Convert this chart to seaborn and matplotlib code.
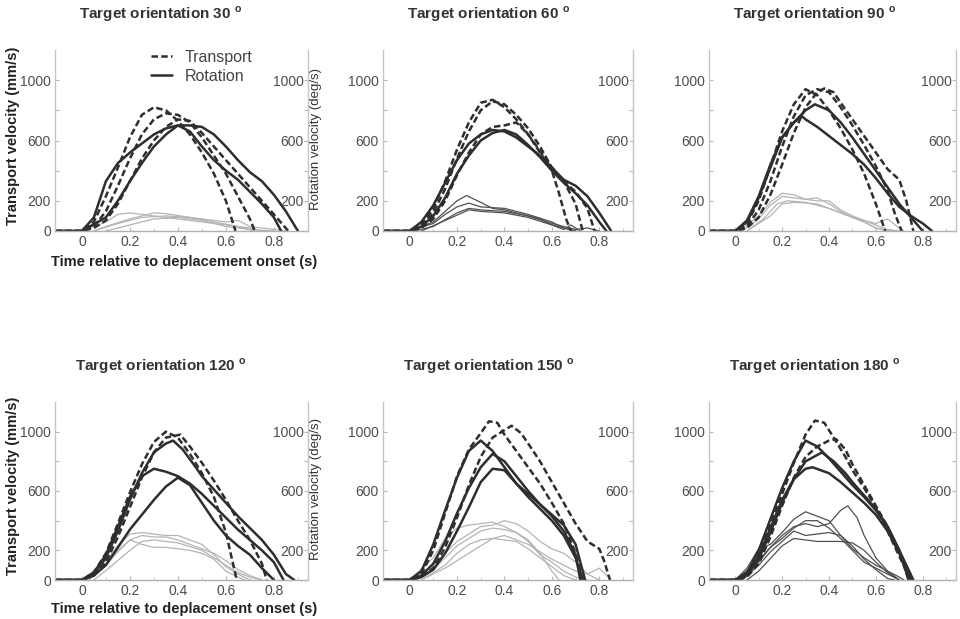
import matplotlib
matplotlib.use("Agg")
import matplotlib.pyplot as plt
from matplotlib.lines import Line2D
import seaborn as sns

sns.set_theme(style="white")
plt.rcParams['font.family'] = ['Liberation Sans', 'DejaVu Sans']
plt.rcParams['mathtext.fontset'] = 'custom'
plt.rcParams['mathtext.bf'] = 'Liberation Sans:bold'
plt.rcParams['mathtext.rm'] = 'Liberation Sans'

# ---------------- data ----------------
orientations = [30, 60, 90, 120, 150, 180]
y_ticks = [0, 200, 400, 600, 800, 1000]
y_left_labels = ['0', '200', '', '600', '', '1000']
y_right_labels = ['', '200', '', '600', '', '1000']
x_ticks = [0, 0.2, 0.4, 0.6, 0.8]
x_labels = ['0', '0.2', '0.4', '0.6', '0.8']
legend_labels = ['Transport', 'Rotation']

# --- 30 deg ---
t30_d1 = [-0.11, 0, 0.05, 0.1, 0.15, 0.2, 0.25, 0.3, 0.35, 0.4, 0.45, 0.5, 0.55, 0.6, 0.64]
v30_d1 = [0, 0, 60, 230, 420, 620, 770, 820, 800, 730, 640, 520, 380, 200, 0]
t30_d2 = [-0.11, 0, 0.05, 0.1, 0.15, 0.2, 0.25, 0.3, 0.35, 0.4, 0.45, 0.5, 0.55, 0.6, 0.65, 0.7, 0.72]
v30_d2 = [0, 0, 30, 130, 300, 480, 640, 740, 780, 770, 720, 620, 500, 380, 230, 80, 0]
t30_d3 = [-0.11, 0, 0.05, 0.1, 0.15, 0.2, 0.25, 0.3, 0.35, 0.4, 0.45, 0.5, 0.55, 0.6, 0.65, 0.7, 0.75, 0.8, 0.86]
v30_d3 = [0, 0, 20, 70, 180, 330, 480, 600, 690, 740, 730, 650, 560, 470, 380, 290, 200, 110, 0]
t30_s1 = [-0.11, 0, 0.05, 0.1, 0.15, 0.2, 0.25, 0.3, 0.35, 0.4, 0.45, 0.5, 0.55, 0.6, 0.65, 0.7, 0.75, 0.8, 0.85, 0.9]
v30_s1 = [0, 0, 90, 330, 450, 520, 580, 640, 680, 700, 700, 690, 640, 560, 470, 390, 330, 240, 130, 0]
t30_s2 = [-0.11, 0, 0.1, 0.15, 0.2, 0.25, 0.3, 0.35, 0.4, 0.45, 0.5, 0.55, 0.6, 0.65, 0.7, 0.75, 0.8, 0.83]
v30_s2 = [0, 0, 90, 200, 330, 450, 560, 640, 700, 660, 560, 470, 400, 340, 260, 180, 90, 0]
t30_g1 = [0, 0.1, 0.15, 0.2, 0.3, 0.4, 0.5, 0.6, 0.7, 0.75]
v30_g1 = [0, 60, 110, 120, 100, 80, 60, 40, 20, 0]
t30_g2 = [0.05, 0.1, 0.2, 0.3, 0.35, 0.45, 0.55, 0.65, 0.72]
v30_g2 = [0, 30, 80, 120, 115, 90, 60, 30, 0]
t30_g3 = [0.05, 0.15, 0.25, 0.35, 0.45, 0.55, 0.6, 0.65, 0.7, 0.8, 0.85]
v30_g3 = [0, 50, 90, 100, 90, 70, 60, 70, 30, 10, 0]
t30_g4 = [0.1, 0.2, 0.3, 0.4, 0.5, 0.6, 0.7, 0.8]
v30_g4 = [0, 40, 80, 90, 70, 30, 10, 0]

# --- 60 deg ---
t60_d1 = [-0.11, 0, 0.05, 0.1, 0.15, 0.2, 0.25, 0.3, 0.35, 0.4, 0.45, 0.5, 0.55, 0.6, 0.63, 0.66, 0.68]
v60_d1 = [0, 0, 40, 150, 330, 540, 720, 850, 870, 820, 740, 640, 520, 400, 250, 80, 0]
t60_d2 = [-0.11, 0, 0.05, 0.1, 0.15, 0.2, 0.25, 0.3, 0.35, 0.4, 0.45, 0.5, 0.55, 0.6, 0.65, 0.7, 0.73]
v60_d2 = [0, 0, 30, 120, 280, 480, 660, 800, 860, 840, 770, 680, 560, 420, 330, 180, 0]
t60_d3 = [-0.11, 0, 0.05, 0.1, 0.15, 0.2, 0.25, 0.3, 0.35, 0.4, 0.45, 0.5, 0.55, 0.6, 0.65, 0.7, 0.75, 0.78]
v60_d3 = [0, 0, 20, 80, 200, 370, 520, 640, 690, 700, 720, 640, 530, 420, 330, 260, 150, 0]
t60_s1 = [-0.11, 0, 0.05, 0.1, 0.15, 0.2, 0.25, 0.3, 0.35, 0.4, 0.45, 0.5, 0.55, 0.6, 0.65, 0.7, 0.75, 0.8, 0.85]
v60_s1 = [0, 0, 60, 170, 320, 470, 580, 640, 670, 660, 620, 560, 500, 420, 340, 300, 230, 120, 0]
t60_s2 = [-0.11, 0, 0.05, 0.1, 0.15, 0.2, 0.25, 0.3, 0.35, 0.4, 0.45, 0.5, 0.55, 0.6, 0.65, 0.7, 0.75, 0.8, 0.83]
v60_s2 = [0, 0, 30, 100, 220, 380, 500, 600, 650, 670, 640, 570, 490, 400, 320, 250, 170, 60, 0]
t60_g1 = [0, 0.1, 0.15, 0.2, 0.24, 0.3, 0.35, 0.4, 0.5, 0.55, 0.6, 0.65, 0.68, 0.72]
v60_g1 = [0, 60, 130, 200, 235, 190, 150, 140, 100, 80, 40, 10, 40, 0]
t60_g2 = [0, 0.1, 0.15, 0.2, 0.25, 0.3, 0.4, 0.5, 0.6, 0.65, 0.7]
v60_g2 = [0, 50, 110, 160, 185, 160, 150, 110, 60, 20, 0]
t60_g3 = [0.02, 0.1, 0.2, 0.25, 0.3, 0.4, 0.5, 0.6, 0.7, 0.75, 0.8]
v60_g3 = [0, 30, 120, 150, 140, 130, 100, 50, 10, 20, 0]
t60_g4 = [0.05, 0.15, 0.25, 0.3, 0.4, 0.5, 0.6, 0.7]
v60_g4 = [0, 70, 140, 130, 120, 90, 40, 0]

# --- 90 deg ---
t90_d1 = [-0.11, 0, 0.05, 0.1, 0.15, 0.2, 0.25, 0.3, 0.35, 0.4, 0.45, 0.5, 0.55, 0.6, 0.64]
v90_d1 = [0, 0, 50, 200, 430, 660, 840, 940, 900, 800, 680, 540, 380, 180, 0]
t90_d2 = [-0.11, 0, 0.05, 0.1, 0.15, 0.2, 0.25, 0.3, 0.35, 0.4, 0.45, 0.5, 0.55, 0.6, 0.65, 0.68, 0.71]
v90_d2 = [0, 0, 30, 140, 330, 560, 760, 900, 940, 920, 820, 700, 570, 430, 270, 120, 0]
t90_d3 = [-0.11, 0, 0.05, 0.1, 0.15, 0.2, 0.25, 0.3, 0.35, 0.38, 0.42, 0.45, 0.5, 0.55, 0.6, 0.65, 0.7, 0.73, 0.76]
v90_d3 = [0, 0, 20, 90, 240, 440, 650, 820, 920, 945, 920, 850, 740, 630, 520, 410, 340, 200, 0]
t90_s1 = [-0.11, 0, 0.05, 0.1, 0.15, 0.2, 0.25, 0.3, 0.34, 0.4, 0.45, 0.5, 0.55, 0.6, 0.65, 0.7, 0.75, 0.8]
v90_s1 = [0, 0, 60, 220, 420, 620, 720, 800, 840, 800, 720, 620, 510, 400, 290, 180, 90, 0]
t90_s2 = [-0.11, 0, 0.05, 0.1, 0.15, 0.2, 0.25, 0.285, 0.3, 0.35, 0.4, 0.45, 0.5, 0.55, 0.6, 0.65, 0.7, 0.75, 0.8, 0.84]
v90_s2 = [0, 0, 70, 230, 440, 620, 720, 760, 740, 690, 630, 570, 510, 440, 350, 250, 160, 100, 50, 0]
t90_g1 = [0.02, 0.1, 0.15, 0.2, 0.25, 0.3, 0.35, 0.4, 0.45, 0.5, 0.55, 0.6, 0.65, 0.7]
v90_g1 = [0, 100, 190, 250, 240, 210, 200, 200, 140, 100, 70, 40, 10, 0]
t90_g2 = [0.03, 0.1, 0.15, 0.2, 0.25, 0.3, 0.35, 0.4, 0.45, 0.5, 0.6, 0.65, 0.7, 0.72]
v90_g2 = [0, 80, 170, 230, 220, 210, 220, 180, 130, 90, 50, 80, 20, 0]
t90_g3 = [0.05, 0.12, 0.18, 0.22, 0.3, 0.35, 0.4, 0.5, 0.55, 0.6, 0.65]
v90_g3 = [0, 80, 180, 200, 190, 170, 150, 90, 60, 20, 0]
t90_g4 = [0.05, 0.15, 0.2, 0.25, 0.35, 0.45, 0.55, 0.6, 0.68]
v90_g4 = [0, 100, 180, 190, 180, 120, 60, 20, 0]

# --- 120 deg ---
t120_d1 = [-0.11, 0, 0.05, 0.1, 0.15, 0.2, 0.25, 0.3, 0.35, 0.4, 0.45, 0.5, 0.55, 0.6, 0.645]
v120_d1 = [0, 0, 50, 180, 380, 590, 780, 930, 1000, 960, 850, 720, 560, 320, 0]
t120_d2 = [-0.11, 0, 0.05, 0.1, 0.15, 0.2, 0.25, 0.3, 0.35, 0.41, 0.45, 0.5, 0.55, 0.6, 0.65, 0.7, 0.75, 0.77]
v120_d2 = [0, 0, 30, 120, 290, 490, 690, 860, 960, 980, 900, 790, 670, 540, 400, 270, 110, 0]
t120_s1 = [-0.11, 0, 0.05, 0.1, 0.15, 0.2, 0.25, 0.3, 0.35, 0.38, 0.42, 0.47, 0.5, 0.55, 0.6, 0.65, 0.7, 0.75, 0.8, 0.85, 0.885]
v120_s1 = [0, 0, 40, 150, 330, 540, 720, 860, 920, 940, 880, 770, 700, 610, 520, 430, 350, 270, 170, 40, 0]
t120_s2 = [-0.11, 0, 0.05, 0.1, 0.15, 0.2, 0.25, 0.3, 0.35, 0.4, 0.45, 0.5, 0.55, 0.6, 0.65, 0.7, 0.75, 0.8, 0.84]
v120_s2 = [0, 0, 50, 170, 360, 560, 700, 750, 730, 700, 650, 580, 500, 420, 340, 270, 200, 120, 0]
t120_s3 = [-0.11, 0, 0.05, 0.1, 0.15, 0.2, 0.25, 0.3, 0.35, 0.4, 0.45, 0.5, 0.55, 0.6, 0.65, 0.7, 0.75, 0.8]
v120_s3 = [0, 0, 30, 100, 220, 340, 440, 540, 630, 690, 640, 520, 400, 300, 230, 170, 80, 0]
t120_g1 = [0, 0.1, 0.15, 0.2, 0.25, 0.3, 0.35, 0.4, 0.45, 0.5, 0.55, 0.6, 0.65, 0.7]
v120_g1 = [0, 130, 230, 310, 320, 310, 300, 300, 270, 240, 170, 90, 40, 0]
t120_g2 = [0.02, 0.1, 0.15, 0.2, 0.25, 0.3, 0.35, 0.4, 0.45, 0.5, 0.55, 0.6, 0.65, 0.7, 0.75]
v120_g2 = [0, 110, 200, 270, 300, 290, 290, 270, 240, 210, 180, 130, 70, 30, 0]
t120_g3 = [0.03, 0.1, 0.15, 0.2, 0.25, 0.3, 0.35, 0.4, 0.45, 0.5, 0.55, 0.6, 0.65, 0.68]
v120_g3 = [0, 100, 190, 270, 240, 220, 220, 210, 200, 180, 140, 60, 20, 0]
t120_g4 = [0.05, 0.12, 0.2, 0.25, 0.3, 0.4, 0.5, 0.55, 0.6, 0.65, 0.7, 0.75]
v120_g4 = [0, 90, 200, 260, 270, 250, 200, 150, 100, 50, 20, 0]

# --- 150 deg ---
t150_d1 = [-0.11, 0, 0.05, 0.1, 0.15, 0.2, 0.25, 0.3, 0.335, 0.37, 0.4, 0.45, 0.5, 0.55, 0.6, 0.65, 0.7, 0.73]
v150_d1 = [0, 0, 40, 200, 450, 700, 880, 990, 1070, 1060, 980, 870, 760, 650, 520, 380, 180, 0]
t150_d2 = [-0.11, 0, 0.05, 0.1, 0.15, 0.2, 0.25, 0.3, 0.35, 0.4, 0.43, 0.47, 0.5, 0.55, 0.6, 0.65, 0.7, 0.75, 0.8, 0.82, 0.845]
v150_d2 = [0, 0, 20, 80, 220, 420, 640, 830, 960, 1010, 1040, 990, 920, 800, 660, 520, 380, 260, 210, 130, 0]
t150_s1 = [-0.11, 0, 0.05, 0.1, 0.15, 0.2, 0.25, 0.3, 0.35, 0.4, 0.45, 0.5, 0.55, 0.6, 0.65, 0.7, 0.73]
v150_s1 = [0, 0, 60, 240, 470, 690, 870, 940, 870, 760, 650, 560, 480, 400, 300, 150, 0]
t150_s2 = [-0.11, 0, 0.05, 0.1, 0.15, 0.2, 0.25, 0.3, 0.35, 0.4, 0.45, 0.5, 0.55, 0.6, 0.65, 0.7, 0.72]
v150_s2 = [0, 0, 30, 110, 260, 450, 620, 760, 850, 800, 700, 600, 510, 430, 330, 170, 0]
t150_s3 = [-0.11, 0, 0.05, 0.1, 0.15, 0.2, 0.25, 0.3, 0.35, 0.4, 0.45, 0.5, 0.55, 0.6, 0.65, 0.7, 0.74]
v150_s3 = [0, 0, 20, 70, 180, 330, 490, 660, 750, 740, 650, 580, 510, 440, 370, 240, 0]
t150_g1 = [0, 0.1, 0.15, 0.2, 0.25, 0.3, 0.35, 0.4, 0.45, 0.5, 0.55, 0.6, 0.63]
v150_g1 = [0, 150, 280, 350, 370, 380, 390, 360, 320, 270, 180, 60, 0]
t150_g2 = [0.02, 0.1, 0.15, 0.2, 0.25, 0.3, 0.35, 0.4, 0.45, 0.5, 0.55, 0.6, 0.65, 0.7, 0.75, 0.8]
v150_g2 = [0, 100, 180, 260, 310, 360, 370, 400, 380, 330, 260, 210, 180, 120, 40, 0]
t150_g3 = [0.03, 0.1, 0.15, 0.2, 0.25, 0.3, 0.35, 0.4, 0.45, 0.5, 0.55, 0.6, 0.65, 0.7, 0.75]
v150_g3 = [0, 70, 150, 230, 280, 330, 350, 340, 320, 260, 170, 120, 60, 20, 0]
t150_g4 = [0.05, 0.15, 0.2, 0.25, 0.3, 0.35, 0.4, 0.45, 0.5, 0.55, 0.6, 0.65, 0.7]
v150_g4 = [0, 100, 180, 240, 270, 280, 270, 260, 210, 150, 90, 30, 0]
t150_g5 = [0.05, 0.15, 0.25, 0.3, 0.35, 0.4, 0.5, 0.6, 0.7, 0.75, 0.8, 0.85]
v150_g5 = [0, 80, 180, 230, 280, 300, 240, 140, 60, 40, 80, 0]

# --- 180 deg ---
t180_d1 = [-0.11, 0, 0.05, 0.1, 0.15, 0.2, 0.25, 0.3, 0.34, 0.38, 0.42, 0.47, 0.5, 0.55, 0.6, 0.65, 0.7, 0.75]
v180_d1 = [0, 0, 40, 170, 370, 580, 790, 980, 1075, 1060, 960, 830, 740, 620, 490, 330, 160, 0]
t180_d2 = [-0.11, 0, 0.05, 0.1, 0.15, 0.2, 0.25, 0.3, 0.35, 0.4, 0.43, 0.47, 0.5, 0.55, 0.6, 0.65, 0.7, 0.74]
v180_d2 = [0, 0, 20, 110, 290, 500, 690, 830, 900, 940, 950, 880, 780, 640, 500, 360, 190, 0]
t180_s1 = [-0.11, 0, 0.05, 0.1, 0.15, 0.2, 0.25, 0.3, 0.35, 0.4, 0.45, 0.5, 0.55, 0.6, 0.65, 0.7, 0.74]
v180_s1 = [0, 0, 50, 200, 410, 620, 800, 940, 900, 820, 730, 640, 560, 470, 360, 200, 0]
t180_s2 = [-0.11, 0, 0.05, 0.1, 0.15, 0.2, 0.25, 0.3, 0.37, 0.42, 0.47, 0.5, 0.55, 0.6, 0.65, 0.7, 0.76]
v180_s2 = [0, 0, 30, 140, 320, 520, 680, 800, 860, 800, 720, 660, 570, 480, 360, 200, 0]
t180_s3 = [-0.11, 0, 0.05, 0.1, 0.15, 0.2, 0.25, 0.3, 0.33, 0.4, 0.45, 0.5, 0.55, 0.6, 0.65, 0.7, 0.75]
v180_s3 = [0, 0, 40, 160, 350, 540, 680, 750, 760, 720, 660, 590, 520, 440, 330, 180, 0]
t180_g1 = [0, 0.05, 0.1, 0.15, 0.2, 0.25, 0.3, 0.35, 0.4, 0.45, 0.5, 0.55, 0.6, 0.65, 0.7, 0.72]
v180_g1 = [0, 80, 210, 240, 320, 410, 460, 430, 400, 300, 210, 150, 100, 60, 20, 0]
t180_g2 = [0, 0.08, 0.15, 0.2, 0.25, 0.3, 0.35, 0.4, 0.45, 0.48, 0.52, 0.55, 0.6, 0.65, 0.7]
v180_g2 = [0, 100, 220, 300, 360, 380, 360, 380, 470, 500, 420, 300, 150, 60, 0]
t180_g3 = [0.02, 0.1, 0.15, 0.2, 0.25, 0.3, 0.35, 0.4, 0.45, 0.5, 0.55, 0.6, 0.65, 0.7]
v180_g3 = [0, 120, 220, 280, 350, 400, 400, 350, 280, 200, 120, 80, 40, 0]
t180_g4 = [0.03, 0.1, 0.15, 0.2, 0.25, 0.3, 0.35, 0.4, 0.45, 0.5, 0.55, 0.6, 0.65, 0.68]
v180_g4 = [0, 100, 190, 260, 330, 300, 310, 320, 300, 230, 140, 70, 10, 0]
t180_g5 = [0.05, 0.1, 0.2, 0.25, 0.3, 0.35, 0.45, 0.5, 0.55, 0.6, 0.65, 0.7]
v180_g5 = [0, 60, 230, 280, 270, 260, 260, 250, 200, 120, 50, 0]

# table built from the arrays above
curves = {
    30: dict(d=[(t30_d1, v30_d1), (t30_d2, v30_d2), (t30_d3, v30_d3)],
             s=[(t30_s1, v30_s1), (t30_s2, v30_s2)],
             g=[(t30_g1, v30_g1), (t30_g2, v30_g2), (t30_g3, v30_g3), (t30_g4, v30_g4)], low='light'),
    60: dict(d=[(t60_d1, v60_d1), (t60_d2, v60_d2), (t60_d3, v60_d3)],
             s=[(t60_s1, v60_s1), (t60_s2, v60_s2)],
             g=[(t60_g1, v60_g1), (t60_g2, v60_g2), (t60_g3, v60_g3), (t60_g4, v60_g4)], low='dark'),
    90: dict(d=[(t90_d1, v90_d1), (t90_d2, v90_d2), (t90_d3, v90_d3)],
             s=[(t90_s1, v90_s1), (t90_s2, v90_s2)],
             g=[(t90_g1, v90_g1), (t90_g2, v90_g2), (t90_g3, v90_g3), (t90_g4, v90_g4)], low='light'),
    120: dict(d=[(t120_d1, v120_d1), (t120_d2, v120_d2)],
              s=[(t120_s1, v120_s1), (t120_s2, v120_s2), (t120_s3, v120_s3)],
              g=[(t120_g1, v120_g1), (t120_g2, v120_g2), (t120_g3, v120_g3), (t120_g4, v120_g4)], low='light'),
    150: dict(d=[(t150_d1, v150_d1), (t150_d2, v150_d2)],
              s=[(t150_s1, v150_s1), (t150_s2, v150_s2), (t150_s3, v150_s3)],
              g=[(t150_g1, v150_g1), (t150_g2, v150_g2), (t150_g3, v150_g3), (t150_g4, v150_g4),
                 (t150_g5, v150_g5)], low='light'),
    180: dict(d=[(t180_d1, v180_d1), (t180_d2, v180_d2)],
              s=[(t180_s1, v180_s1), (t180_s2, v180_s2), (t180_s3, v180_s3)],
              g=[(t180_g1, v180_g1), (t180_g2, v180_g2), (t180_g3, v180_g3), (t180_g4, v180_g4),
                 (t180_g5, v180_g5)], low='dark'),
}

# ---------------- layout ----------------
W, H = 960, 619
fig = plt.figure(figsize=(W / 100, H / 100), dpi=100)
col_left = [55, 383, 709]
col_width = [253, 250, 247]
row_top = [50, 402]
row_bottom = [231, 580]
xlabel_y = [262, 609]

DARK = '#2e2e2e'
LIGHT = '#b4b4b4'
SPINE = '#c4c4c4'
TICKLAB = '#4d4d4d'
DASH = (0, (2.6, 1.3))

for i, ori in enumerate(orientations):
    r, c = divmod(i, 3)
    l, w = col_left[c], col_width[c]
    top, bot = row_top[r], row_bottom[r]
    ax = fig.add_axes([l / W, 1 - bot / H, w / W, (bot - top) / H])
    data = curves[ori]
    lowcol = LIGHT if data['low'] == 'light' else '#505050'
    for t, v in data['g']:
        sns.lineplot(x=t, y=v, ax=ax, color=lowcol, lw=0.9, estimator=None, sort=False)
    for t, v in data['s']:
        sns.lineplot(x=t, y=v, ax=ax, color=DARK, lw=1.8, estimator=None, sort=False)
    for t, v in data['d']:
        sns.lineplot(x=t, y=v, ax=ax, color=DARK, lw=1.8, linestyle=DASH, estimator=None, sort=False)

    ax.set_xlim(-0.112, 0.942)
    ax.set_ylim(0, 1200)
    ax.set_xticks(x_ticks)
    ax.set_xticklabels(x_labels)
    ax.set_xticks([0.1, 0.3, 0.5, 0.7, 0.9], minor=True)
    ax.set_yticks(y_ticks)
    ax.set_yticklabels(y_left_labels)
    ax.set_xlabel('')
    ax.set_ylabel('')
    for sp in ['top', 'right']:
        ax.spines[sp].set_visible(False)
    ax.spines['left'].set_color(SPINE)
    ax.spines['bottom'].set_color('#b0b0b0')
    ax.spines['left'].set_linewidth(1.0)
    ax.spines['bottom'].set_linewidth(1.0)
    ax.tick_params(axis='both', which='major', direction='in', length=3, width=0.8,
                   color='#b8b8b8', labelcolor=TICKLAB, labelsize=10, bottom=True, left=True, pad=3)
    ax.tick_params(axis='x', which='minor', direction='in', length=2, width=0.6,
                   color='#c8c8c8', bottom=True)

    ax2 = ax.twinx()
    ax2.set_ylim(0, 1200)
    ax2.set_yticks(y_ticks)
    ax2.set_yticklabels(y_right_labels)
    for sp in ['top', 'left', 'bottom']:
        ax2.spines[sp].set_visible(False)
    ax2.spines['right'].set_color(SPINE)
    ax2.spines['right'].set_linewidth(1.0)
    ax2.tick_params(axis='y', direction='in', length=3, width=0.8, color='#b8b8b8',
                    labelcolor=TICKLAB, labelsize=10, right=True, labelright=True, pad=-3)
    for lab in ax2.get_yticklabels():
        lab.set_horizontalalignment('right')
    ax2.grid(False)
    ax.grid(False)

    # title
    fig.text((l + 106) / W, 1 - (top - 36) / H,
             'Target orientation %d $^{\\mathbf{o}}$' % ori,
             ha='center', va='center', fontsize=11, fontweight='bold', color='#333333')

    if c == 0:
        fig.text(13 / W, 1 - ((top + bot) / 2 - 5) / H, 'Transport velocity (mm/s)', rotation=90,
                 ha='center', va='center', fontsize=10.5, fontweight='bold', color='#222222')
        fig.text(184 / W, 1 - xlabel_y[r] / H, 'Time relative to deplacement onset (s)',
                 ha='center', va='center', fontsize=10.5, fontweight='bold', color='#222222')
        fig.text(316 / W, 1 - ((top + bot) / 2 - 2) / H, 'Rotation velocity (deg/s)', rotation=90,
                 ha='center', va='center', fontsize=9.5, color='#333333')

    if i == 0:
        handles = [Line2D([], [], color=DARK, lw=1.8, linestyle=DASH),
                   Line2D([], [], color=DARK, lw=1.8)]
        leg = ax.legend(handles, legend_labels, loc='upper left',
                        bbox_to_anchor=(96 / w, 1.0), frameon=False,
                        borderpad=0, borderaxespad=0, handlelength=1.3, handletextpad=0.8,
                        labelspacing=0.25, fontsize=11.5)
        for txt in leg.get_texts():
            txt.set_color('#444444')

fig.savefig('out.png', dpi=100)
